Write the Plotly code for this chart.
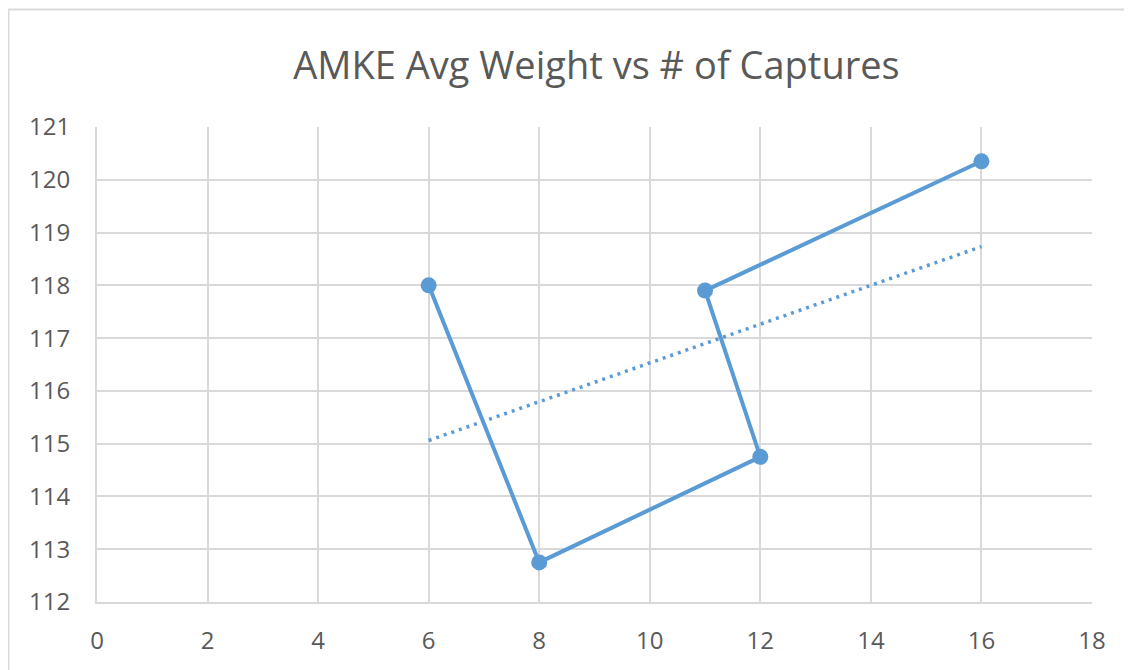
import numpy as np
import plotly.graph_objects as go

# Data
captures = [6, 8, 12, 11, 16]
avg_weight = [118.0, 112.75, 114.75, 117.9, 120.35]
x_ticks = [0, 2, 4, 6, 8, 10, 12, 14, 16, 18]
y_ticks = [112, 113, 114, 115, 116, 117, 118, 119, 120, 121]
title_text = "AMKE Avg Weight vs # of Captures"

BLUE = "#5B9BD5"
GRID = "#D9D9D9"
TXT = "#595959"

# Linear trendline (least squares), like Excel's
slope, intercept = np.polyfit(captures, avg_weight, 1)
tx = [min(captures), max(captures)]
ty = [slope * v + intercept for v in tx]

fig = go.Figure()
fig.add_trace(go.Scatter(
    x=tx, y=ty, mode="lines",
    line=dict(color=BLUE, width=3.5, dash="3px,5px"),
    hoverinfo="skip", showlegend=False,
))
fig.add_trace(go.Scatter(
    x=captures, y=avg_weight, mode="lines+markers",
    line=dict(color=BLUE, width=4),
    marker=dict(color=BLUE, size=16),
    showlegend=False,
))

# page has an 8px body margin; target plot area in screenshot: x 97..1092, y 127..602
OFF = 8
W, H = 1132, 670
pw, ph = 995, 475
L = 97 - OFF
T = 127 - OFF
R = W - L - pw
B = H - T - ph


def px2paper_x(px):
    return (px - OFF - L) / pw


def px2paper_y(py):
    return (T + ph - (py - OFF)) / ph


fig.add_shape(type="rect", xref="paper", yref="paper",
              x0=px2paper_x(8.5), x1=px2paper_x(1160),
              y0=px2paper_y(700), y1=px2paper_y(9.5),
              line=dict(color=GRID, width=2), fillcolor="rgba(0,0,0,0)", layer="below")

fig.update_layout(
    width=W, height=H,
    margin=dict(l=L, r=R, t=T, b=B),
    paper_bgcolor="white", plot_bgcolor="white",
    title=dict(text=title_text, x=px2paper_x(596.5), xref="paper", xanchor="center",
               y=1 - (66 - OFF) / H, yanchor="middle",
               font=dict(family="Open Sans", size=38, color=TXT)),
    font=dict(family="Open Sans", color=TXT),
    xaxis=dict(range=[0, 18], tickvals=x_ticks, showgrid=True, gridcolor=GRID, gridwidth=2,
               zeroline=False, showline=True, linecolor=GRID, linewidth=2, mirror=False,
               ticks="", tickfont=dict(size=24, color=TXT), ticklabelstandoff=16),
    yaxis=dict(range=[112, 121], tickvals=y_ticks, showgrid=True, gridcolor=GRID, gridwidth=2,
               zeroline=False, showline=True, linecolor=GRID, linewidth=2,
               ticks="", tickfont=dict(size=24, color=TXT), ticklabelstandoff=20),
)

fig.write_html("out.html")
